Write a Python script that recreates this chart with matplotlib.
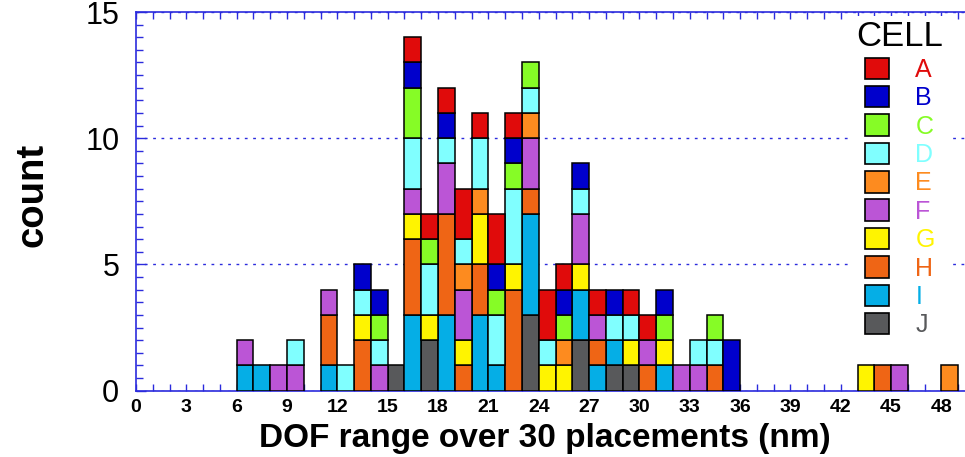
import matplotlib
matplotlib.use("Agg")
import matplotlib.pyplot as plt
from matplotlib.patches import Patch
from matplotlib.ticker import MultipleLocator
import numpy as np

plt.rcParams['font.family'] = ['Liberation Sans', 'DejaVu Sans']

# bin start (nm) for every bin that has at least one placement
bins = [6, 7, 8, 9,
        11, 12, 13, 14, 15, 16, 17, 18, 19, 20, 21, 22, 23, 24, 25,
        26, 27, 28, 29, 30, 31, 32, 33, 34, 35,
        43, 44, 45, 48]

# counts per cell, aligned with bins
cell_a = [0, 0, 0, 0, 0, 0, 0, 0, 0, 1, 1, 1, 2, 1, 2, 1, 0, 2, 1, 0, 1, 0, 1, 1, 0, 0, 0, 0, 0, 0, 0, 0, 0]
cell_b = [0, 0, 0, 0, 0, 0, 1, 1, 0, 1, 0, 1, 0, 0, 1, 1, 0, 0, 1, 1, 0, 1, 0, 0, 1, 0, 0, 0, 2, 0, 0, 0, 0]
cell_c = [0, 0, 0, 0, 0, 0, 0, 1, 0, 2, 1, 0, 0, 0, 1, 1, 1, 0, 1, 0, 0, 0, 0, 0, 1, 0, 0, 1, 0, 0, 0, 0, 0]
cell_d = [0, 0, 0, 1, 0, 1, 1, 1, 0, 2, 2, 1, 1, 2, 2, 3, 1, 1, 0, 1, 0, 1, 1, 0, 0, 0, 1, 1, 0, 0, 0, 0, 0]
cell_e = [0, 0, 0, 0, 0, 0, 0, 0, 0, 0, 0, 0, 1, 1, 0, 0, 1, 0, 1, 0, 0, 0, 0, 0, 0, 0, 0, 0, 0, 0, 0, 0, 1]
cell_f = [1, 0, 1, 1, 1, 0, 0, 1, 0, 1, 0, 2, 2, 0, 0, 0, 2, 0, 0, 2, 1, 0, 0, 1, 0, 1, 1, 0, 0, 0, 0, 1, 0]
cell_g = [0, 0, 0, 0, 0, 0, 1, 0, 0, 1, 1, 0, 1, 2, 0, 1, 0, 1, 1, 1, 0, 0, 1, 0, 1, 0, 0, 0, 0, 1, 0, 0, 0]
cell_h = [0, 0, 0, 0, 2, 0, 2, 0, 0, 3, 0, 4, 1, 2, 0, 4, 1, 0, 0, 0, 1, 0, 0, 1, 0, 0, 0, 1, 0, 0, 1, 0, 0]
cell_i = [1, 1, 0, 0, 1, 0, 0, 0, 0, 3, 0, 3, 0, 3, 1, 0, 4, 0, 0, 2, 1, 1, 0, 0, 1, 0, 0, 0, 0, 0, 0, 0, 0]
cell_j = [0, 0, 0, 0, 0, 0, 0, 0, 1, 0, 2, 0, 0, 0, 0, 0, 3, 0, 0, 2, 0, 1, 1, 0, 0, 0, 0, 0, 0, 0, 0, 0, 0]

cell_names = ['A', 'B', 'C', 'D', 'E', 'F', 'G', 'H', 'I', 'J']
cell_counts = [cell_a, cell_b, cell_c, cell_d, cell_e, cell_f, cell_g, cell_h, cell_i, cell_j]
cell_colors = ['#e00b0b', '#0000cc', '#86fc26', '#80ffff', '#fd8b1f',
               '#bb55d6', '#fff400', '#ef6515', '#05aee6', '#58595b']

axis_blue = '#2b2bdd'

fig = plt.figure(figsize=(9.65, 4.57), dpi=100)
ax = fig.add_axes([136 / 965, 66.3 / 457, 839 / 965, 378.7 / 457])

# stack from J (bottom) up to A (top)
x = np.array(bins)
bottom = np.zeros(len(bins))
for name, counts, color in reversed(list(zip(cell_names, cell_counts, cell_colors))):
    counts = np.array(counts)
    keep = counts > 0
    ax.bar(x[keep], counts[keep], width=1, bottom=bottom[keep], align='edge',
           color=color, edgecolor='black', linewidth=1.1, zorder=3)
    bottom += counts

ax.set_xlim(0, 50)
ax.set_ylim(0, 15)

ax.xaxis.set_major_locator(MultipleLocator(3))
ax.xaxis.set_minor_locator(MultipleLocator(1))
ax.yaxis.set_major_locator(MultipleLocator(5))
ax.yaxis.set_minor_locator(MultipleLocator(0.5))

ax.tick_params(axis='x', which='both', direction='in', top=True, bottom=True,
               color=axis_blue, length=5, width=1)
ax.tick_params(axis='x', which='major', labelsize=14, pad=6)
ax.tick_params(axis='y', which='both', direction='in', left=True, right=False,
               color=axis_blue, length=5, width=1)
ax.tick_params(axis='y', which='major', labelsize=22, pad=12, length=7)
for lab in ax.get_xticklabels():
    lab.set_fontweight('bold')

for side in ['left', 'bottom', 'top']:
    ax.spines[side].set_color(axis_blue)
    ax.spines[side].set_linewidth(1.2)
ax.spines['right'].set_visible(False)

ax.yaxis.grid(True, which='major', color=axis_blue, linestyle=(0, (2, 4)),
              linewidth=1, zorder=0)
ax.set_axisbelow(True)

ax.set_xlabel('DOF range over 30 placements (nm)', fontsize=24, fontweight='bold')
ax.xaxis.set_label_coords(0.4875, -0.085)
ax.set_ylabel('count', fontsize=27.5, fontweight='bold')
ax.yaxis.set_label_coords(-0.1025, 0.517)

handles = [Patch(facecolor=c, edgecolor='black', linewidth=1.2) for c in cell_colors]
leg = ax.legend(handles, cell_names, title='CELL', loc='upper right',
                bbox_to_anchor=(961 / 965, 1 - 3 / 457), bbox_transform=fig.transFigure,
                fontsize=18, title_fontsize=25, labelcolor=cell_colors,
                handlelength=0.95, handleheight=0.95, handletextpad=1.05,
                labelspacing=0.16, borderpad=0.2, frameon=True, framealpha=1,
                facecolor='white', edgecolor='none', fancybox=False)
leg.set_zorder(5)

fig.savefig('out.png', dpi=100)
